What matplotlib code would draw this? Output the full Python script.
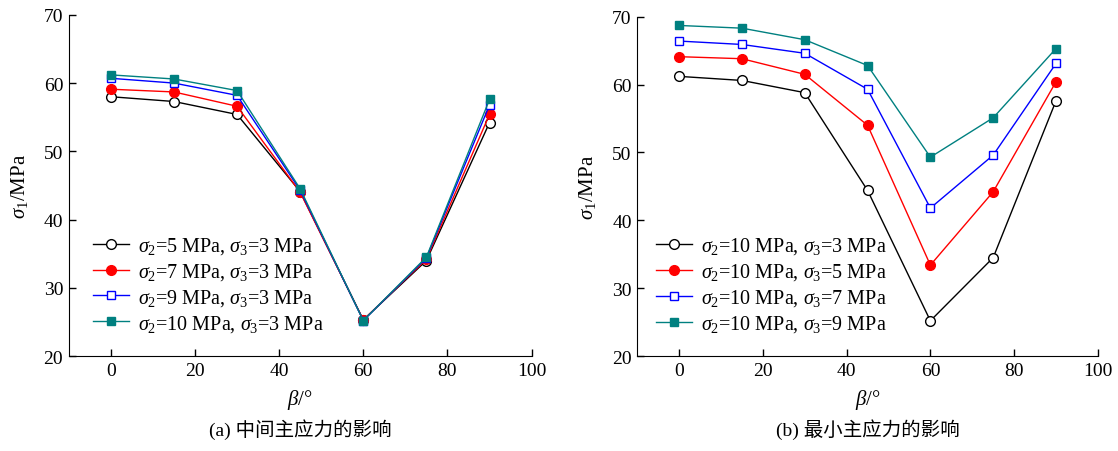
import matplotlib
matplotlib.use("Agg")
import matplotlib.pyplot as plt

plt.rcParams['font.family'] = ['Liberation Serif', 'Noto Sans CJK SC']
plt.rcParams['mathtext.fontset'] = 'custom'
plt.rcParams['mathtext.rm'] = 'Liberation Serif'
plt.rcParams['mathtext.it'] = 'Liberation Serif:italic'

beta = [0, 15, 30, 45, 60, 75, 90]

# (a) influence of intermediate principal stress (sigma3 = 3 MPa)
a_s2_5 = [58.0, 57.3, 55.4, 44.1, 25.3, 34.0, 54.2]
a_s2_7 = [59.1, 58.7, 56.6, 44.0, 25.3, 34.2, 55.4]
a_s2_9 = [60.7, 60.0, 58.2, 44.3, 25.2, 34.4, 56.8]
a_s2_10 = [61.2, 60.6, 58.9, 44.5, 25.2, 34.5, 57.6]
a_labels = [r'$\sigma_2$=5 MPa, $\sigma_3$=3 MPa',
            r'$\sigma_2$=7 MPa, $\sigma_3$=3 MPa',
            r'$\sigma_2$=9 MPa, $\sigma_3$=3 MPa',
            r'$\sigma_2$=10 MPa, $\sigma_3$=3 MPa']

# (b) influence of minimum principal stress (sigma2 = 10 MPa)
b_s3_3 = [61.2, 60.6, 58.8, 44.4, 25.2, 34.5, 57.6]
b_s3_5 = [64.1, 63.8, 61.5, 54.0, 33.4, 44.2, 60.4]
b_s3_7 = [66.4, 65.9, 64.6, 59.3, 41.8, 49.6, 63.1]
b_s3_9 = [68.7, 68.3, 66.6, 62.8, 49.3, 55.1, 65.3]
b_labels = [r'$\sigma_2$=10 MPa, $\sigma_3$=3 MPa',
            r'$\sigma_2$=10 MPa, $\sigma_3$=5 MPa',
            r'$\sigma_2$=10 MPa, $\sigma_3$=7 MPa',
            r'$\sigma_2$=10 MPa, $\sigma_3$=9 MPa']

titles = ['(a) 中间主应力的影响', '(b) 最小主应力的影响']

styles = [dict(color='black', marker='o', mfc='white', mec='black', ms=7),
          dict(color='#ff0000', marker='o', mfc='#ff0000', mec='#ff0000', ms=7),
          dict(color='#0000ff', marker='s', mfc='white', mec='#0000ff', ms=6),
          dict(color='#008080', marker='s', mfc='#008080', mec='#008080', ms=6)]

fig = plt.figure(figsize=(11.18, 4.52), dpi=100)
ax1 = fig.add_axes([0.0615, 0.210, 0.414, 0.755])
ax2 = fig.add_axes([0.570, 0.210, 0.412, 0.751])

for ax, series, labels, title, lx in [(ax1, [a_s2_5, a_s2_7, a_s2_9, a_s2_10], a_labels, titles[0], 0.052),
                                       (ax2, [b_s3_3, b_s3_5, b_s3_7, b_s3_9], b_labels, titles[1], 0.041)]:
    for ys, lab, st in zip(series, labels, styles):
        ax.plot(beta, ys, lw=1.0, mew=1.0, label=lab, **st)
    ax.set_xlim(-10, 100)
    ax.set_ylim(20, 70)
    ax.set_xticks([0, 20, 40, 60, 80, 100])
    ax.set_yticks([20, 30, 40, 50, 60, 70])
    ax.spines['top'].set_visible(False)
    ax.spines['right'].set_visible(False)
    ax.tick_params(direction='in', length=5, width=1, labelsize=14, pad=4)
    ax.set_xlabel(r'$\beta$/°', fontsize=15, labelpad=6)
    ax.set_ylabel(r'$\sigma_1$/MPa', fontsize=15, labelpad=10)
    ax.text(0.5, -0.214, title, transform=ax.transAxes, ha='center', va='center', fontsize=14)
    ax.legend(loc='lower left', bbox_to_anchor=(lx, 0.065), frameon=False, fontsize=14.5,
              handlelength=1.8, handletextpad=0.45, labelspacing=0.25, borderaxespad=0,
              borderpad=0)

fig.savefig('out.png', dpi=100)
